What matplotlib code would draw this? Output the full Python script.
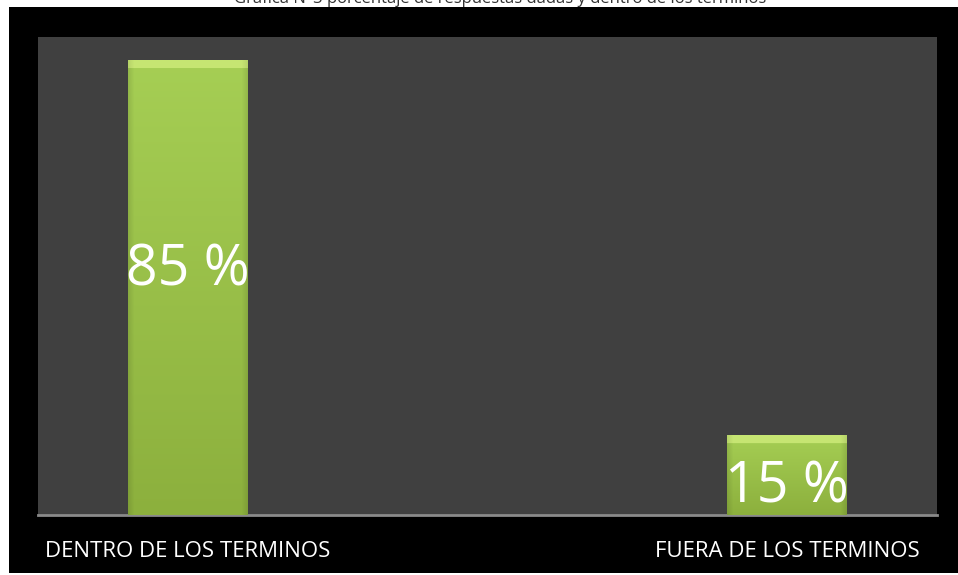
import numpy as np
import matplotlib
matplotlib.use("Agg")
import matplotlib.pyplot as plt
from matplotlib.patches import Rectangle

categories = ["DENTRO DE LOS TERMINOS", "FUERA DE LOS TERMINOS"]
values = [85, 15]
value_labels = ["85 %", "15 %"]
title = "Gráfica N°3 porcentaje de respuestas dadas y dentro de los términos"

W, H = 958, 575
fig = plt.figure(figsize=(W / 100, H / 100), dpi=100, facecolor="white")
plt.rcParams["font.family"] = ["Open Sans", "DejaVu Sans"]

# black chart-area background
fig.patches.append(Rectangle((9 / W, 2 / H), 1 - 9 / W, 1 - 9 / H,
                             transform=fig.transFigure, facecolor="black",
                             edgecolor="none", zorder=-10))
# title, mostly hidden behind the top edge as in the reference
fig.text(500 / W, 1 - 3 / H, title, ha="center", va="baseline",
         fontsize=12, color="#333333", zorder=-5)

ax = fig.add_axes([38 / W, 60 / H, 899 / W, 478 / H])
ax.set_facecolor("#404040")
ax.set_xlim(-0.25, 1.25)
ax.set_ylim(0, 89.2)
for s in ["left", "right", "top"]:
    ax.spines[s].set_visible(False)
ax.spines["bottom"].set_color("#8a8a8a")
ax.spines["bottom"].set_linewidth(2)
ax.set_yticks([])
x = np.arange(len(categories))
ax.set_xticks(x)
ax.set_xticklabels(categories, color="white", fontsize=16)
ax.tick_params(axis="x", length=0, pad=19)

bars = ax.bar(x, values, width=0.2, color="#95bd40", edgecolor="none", zorder=2)

px_per_unit = 478 / 89.2
for b in bars:
    x0, w, h = b.get_x(), b.get_width(), b.get_height()
    ny = max(int(h * px_per_unit), 2)
    nx = 120
    yy = np.linspace(1, 0, ny)[:, None]   # 1 at top
    xx = np.linspace(0, 1, nx)[None, :]
    top = np.array([0.65, 0.81, 0.33])
    bot = np.array([0.55, 0.69, 0.24])
    img = bot + (top - bot) * yy[..., None]
    img = np.broadcast_to(img, (ny, nx, 3)).copy()
    edge = np.clip(np.minimum(xx, 1 - xx) / 0.05, 0, 1)[..., None]
    img = img * (0.9 + 0.1 * edge)
    band_px = 9
    rows = np.arange(ny)[:, None, None]
    bevel = (rows < band_px)
    img = np.where(bevel, np.array([0.78, 0.90, 0.45]) * (0.92 + 0.08 * edge), img)
    img = np.clip(img, 0, 1)
    im = ax.imshow(img, extent=[x0, x0 + w, 0, h], aspect="auto", zorder=3,
                   interpolation="bilinear")
    im.set_clip_path(b)

label_offsets_px = [2, -28]
for xi, v, lab, off in zip(x, values, value_labels, label_offsets_px):
    ax.annotate(lab, (xi, v / 2), xytext=(0, off * 0.72), textcoords="offset points",
                ha="center", va="baseline", color="white", fontsize=40, zorder=5)

fig.savefig("out.png", dpi=100, facecolor="white")
